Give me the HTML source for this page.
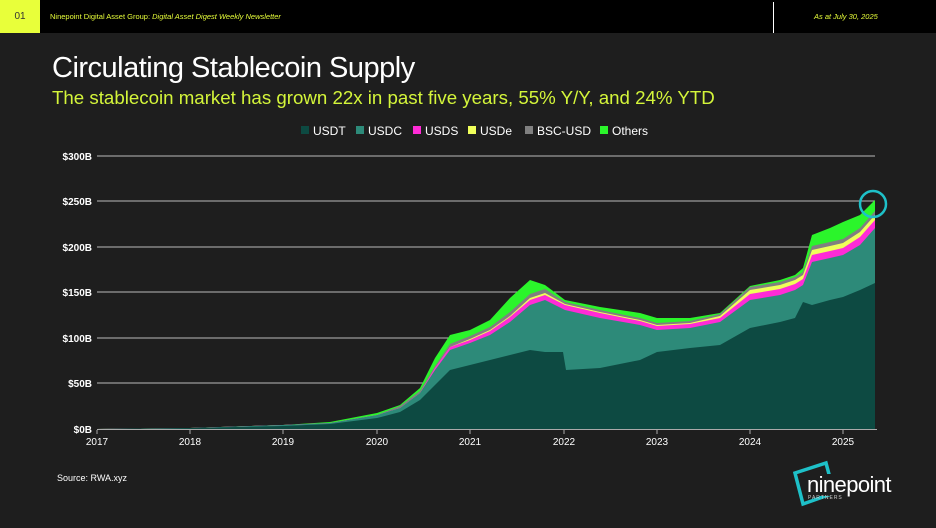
<!DOCTYPE html>
<html><head><meta charset="utf-8"><style>
body{margin:0;width:936px;height:528px;background:#1e1e1e;font-family:"Liberation Sans",sans-serif;overflow:hidden;position:relative}
.hdr{position:absolute;left:0;top:0;width:936px;height:33px;background:#000}
.num{position:absolute;left:0;top:0;width:40px;height:33px;background:#e8ff3a;color:#333;font-size:10px;text-align:center;line-height:33px}
.t{position:absolute;color:#e8ff3a;font-size:7.5px;top:12px}
.ttl{position:absolute;left:52px;top:52px;color:#fff;font-size:29px;letter-spacing:-0.5px}
.sub{position:absolute;left:52px;top:87px;color:#d4f53a;font-size:18.7px}
</style></head><body>
<div class="hdr"><div class="num">01</div>
<div class="t" style="left:50px">Ninepoint Digital Asset Group: <i>Digital Asset Digest Weekly Newsletter</i></div>
<div style="position:absolute;left:773px;top:2px;width:1px;height:31px;background:#fff"></div>
<div class="t" style="left:814px;font-style:italic">As at July 30, 2025</div></div>
<div class="ttl">Circulating Stablecoin Supply</div>
<div class="sub">The stablecoin market has grown 22x in past five years, 55% Y/Y, and 24% YTD</div>
<svg width="936" height="528" style="position:absolute;left:0;top:0" font-family="Liberation Sans, sans-serif">
<g font-size="12" fill="#fff">
<rect x="301" y="126" width="8" height="8" fill="#0d4a42"/><text x="313" y="135">USDT</text>
<rect x="356" y="126" width="8" height="8" fill="#2d8a79"/><text x="368" y="135">USDC</text>
<rect x="413" y="126" width="8" height="8" fill="#ff2bd6"/><text x="425" y="135">USDS</text>
<rect x="468" y="126" width="8" height="8" fill="#f0ff5a"/><text x="480" y="135">USDe</text>
<rect x="525" y="126" width="8" height="8" fill="#808080"/><text x="537" y="135">BSC-USD</text>
<rect x="600" y="126" width="8" height="8" fill="#2bf52b"/><text x="612" y="135">Others</text>
</g>
<g stroke="#bbb" stroke-width="1">
<line x1="97" x2="875" y1="156" y2="156"/><line x1="97" x2="875" y1="201" y2="201"/><line x1="97" x2="875" y1="247" y2="247"/><line x1="97" x2="875" y1="292" y2="292"/><line x1="97" x2="875" y1="338" y2="338"/><line x1="97" x2="875" y1="383" y2="383"/>
</g>
<g font-size="10" font-weight="bold" fill="#fff" text-anchor="end">
<text x="92" y="160">$300B</text><text x="92" y="205">$250B</text><text x="92" y="251">$200B</text><text x="92" y="296">$150B</text><text x="92" y="342">$100B</text><text x="92" y="387">$50B</text><text x="92" y="433">$0B</text>
</g>
<polygon fill="#2bf52b" points="97,429 190,428 283,425 330,422 377,413 400,405 420,388 435,358 450,335 470,330 490,320 510,298 530,280 545,285 565,300 600,307 640,313 657,318 690,318 720,313 750,286 780,280 795,275 803,268 812,235 830,228 843,222 860,215 875,200 875,429"/>
<polygon fill="#808080" points="97,429 190,428 283,425 330,423 377,415 400,406 420,391 435,366 450,344 470,336 490,327 510,312 530,294 545,289 565,302 600,310 640,318 657,323 690,321 720,314 750,287 780,282 795,277 803,272 812,246 830,242 843,239 860,228 875,211 875,429"/>
<polygon fill="#f0ff5a" points="97,429 190,428 283,425 330,423 377,415 400,408 420,393 435,368 450,347 470,339 490,330 510,316 530,298 545,293 565,304 600,312 640,320 657,325 690,323 720,316 750,290 780,285 795,280 803,275 812,250 830,246 843,243 860,232 875,215 875,429"/>
<polygon fill="#ff2bd6" points="97,429 190,428 283,425 330,423 377,415 400,408 420,393 435,368 450,347 470,340 490,331 510,317 530,300 545,295 565,305 600,313 640,321 657,326 690,324 720,318 750,294 780,289 795,284 803,279 812,255 830,251 843,248 860,237 875,220 875,429"/>
<polygon fill="#2d8a79" points="97,429 190,428 283,425 330,423 377,415 400,408 420,393 435,370 450,350 470,343 490,335 510,322 530,305 545,300 565,310 600,318 640,325 657,330 690,328 720,322 750,300 780,295 795,290 803,285 812,262 830,258 843,255 860,245 875,228 875,429"/>
<polygon fill="#0d4a42" points="97,429 190,428 283,426 330,424 377,418 400,412 420,400 435,385 450,370 470,365 490,360 510,355 530,350 545,352 563,352 566,370 600,368 640,360 657,352 690,348 720,345 750,328 780,322 795,318 803,302 812,305 830,300 843,297 860,290 875,283 875,429"/>
<line x1="97" x2="877" y1="429.5" y2="429.5" stroke="#aaa"/>
<g stroke="#aaa"><line x1="97" x2="97" y1="430" y2="434"/><line x1="190" x2="190" y1="430" y2="434"/><line x1="283" x2="283" y1="430" y2="434"/><line x1="377" x2="377" y1="430" y2="434"/><line x1="470" x2="470" y1="430" y2="434"/><line x1="564" x2="564" y1="430" y2="434"/><line x1="657" x2="657" y1="430" y2="434"/><line x1="750" x2="750" y1="430" y2="434"/><line x1="843" x2="843" y1="430" y2="434"/></g>
<g font-size="10" fill="#fff" text-anchor="middle">
<text x="97" y="445">2017</text><text x="190" y="445">2018</text><text x="283" y="445">2019</text><text x="377" y="445">2020</text><text x="470" y="445">2021</text><text x="564" y="445">2022</text><text x="657" y="445">2023</text><text x="750" y="445">2024</text><text x="843" y="445">2025</text>
</g>
<circle cx="873" cy="204" r="13" fill="none" stroke="#1ec0c8" stroke-width="2.5"/>
<text x="57" y="481" font-size="9" fill="#fff">Source: RWA.xyz</text>
<polygon points="795,473 826,463 834,493 803,504" fill="none" stroke="#1ec0c8" stroke-width="3.5"/>
<rect x="808" y="474" width="50" height="22" fill="#1e1e1e"/>
<text x="807" y="492" font-size="22" fill="#fff" letter-spacing="-0.6">ninepoint</text>
<text x="808" y="499" font-size="5" fill="#ccc" letter-spacing="1">PARTNERS</text>
</svg>
</body></html>
